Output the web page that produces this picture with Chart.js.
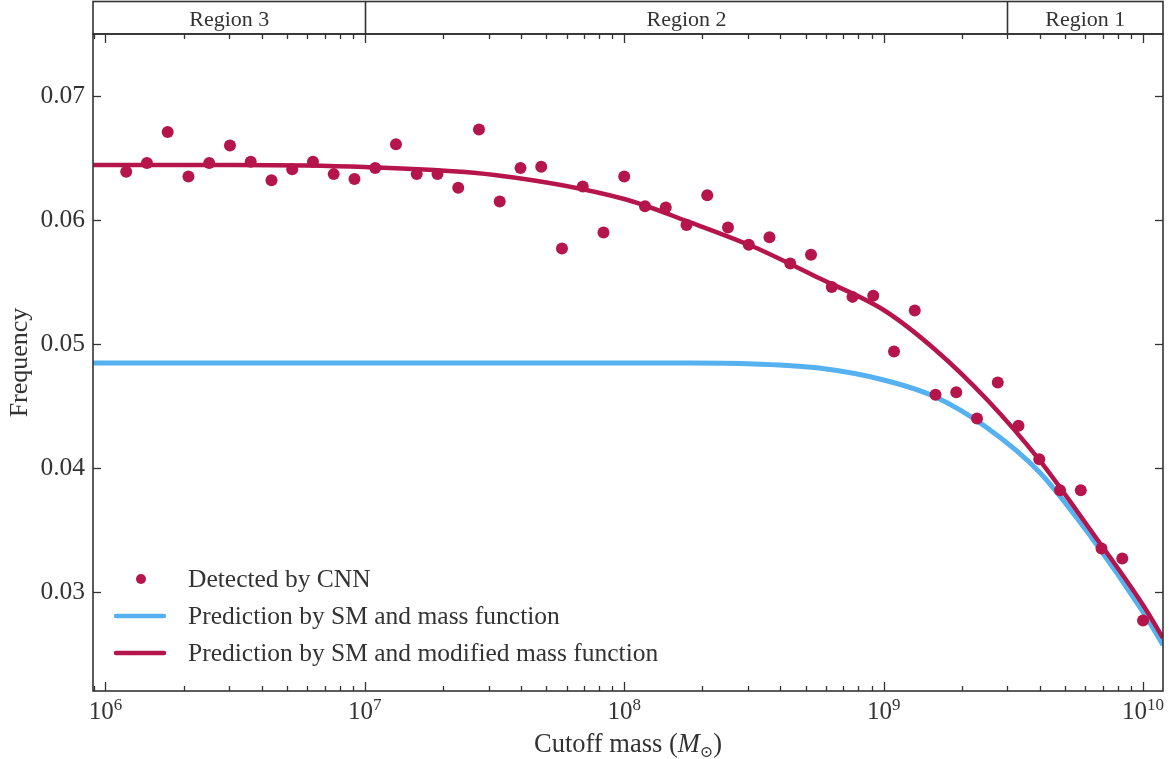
<!DOCTYPE html>
<html>
<head>
<meta charset="utf-8">
<title>Frequency vs cutoff mass</title>
<script src="https://cdn.jsdelivr.net/npm/chart.js@4.4.1/dist/chart.umd.min.js"></script>
<style>
  html, body { margin: 0; padding: 0; background: #fff; }
  #wrap { width: 1173px; height: 759px; }
</style>
</head>
<body>
<div id="wrap"><canvas id="cutoffChart" width="1173" height="759"></canvas></div>
<script>
var SERIF = '"Liberation Serif", "Times New Roman", "DejaVu Serif", serif';
var INK = '#333333';
var RED = '#B5154B';
var BLUE = '#56B1F1';

// Detected by CNN (log10 of cutoff mass, frequency)
var cnnLogMass = [6.08, 6.16, 6.24, 6.32, 6.40, 6.48, 6.56, 6.64, 6.72, 6.80,
                  6.88, 6.96, 7.04, 7.12, 7.20, 7.28, 7.36, 7.44, 7.52, 7.60,
                  7.68, 7.76, 7.84, 7.92, 8.00, 8.08, 8.16, 8.24, 8.32, 8.40,
                  8.48, 8.56, 8.64, 8.72, 8.80, 8.88, 8.96, 9.04, 9.12, 9.20,
                  9.28, 9.36, 9.44, 9.52, 9.60, 9.68, 9.76, 9.84, 9.92, 10.00];
var cnnFrequency = [0.0639, 0.0646, 0.0671, 0.0635, 0.0646, 0.0660, 0.0647, 0.0632, 0.0641, 0.0647,
                    0.0637, 0.0633, 0.0642, 0.0661, 0.0637, 0.0637, 0.0626, 0.0673, 0.0615, 0.0642,
                    0.0643, 0.0577, 0.0627, 0.0590, 0.0635, 0.0611, 0.0610, 0.0596, 0.0620, 0.0594,
                    0.0580, 0.0586, 0.0565, 0.0572, 0.0546, 0.0538, 0.0539, 0.0494, 0.0527, 0.0459,
                    0.0461, 0.0440, 0.0469, 0.0434, 0.0407, 0.0382, 0.0382, 0.0335, 0.0327, 0.0277];

// prediction curves at these masses
var curveLogMass = [5.952, 6.5, 7.0, 7.5, 8.0, 8.25, 8.5, 8.75, 9.0, 9.2, 9.4, 9.6, 9.8, 10.0, 10.077];
var smFrequency = [0.04847, 0.04847, 0.04847, 0.04847, 0.04847, 0.04847, 0.04839, 0.04806, 0.04710,
                   0.04573, 0.04323, 0.03968, 0.03444, 0.02839, 0.02573];
var modifiedFrequency = [0.06444, 0.06444, 0.06427, 0.06363, 0.06169, 0.05984, 0.05782, 0.05532, 0.05274,
                         0.04952, 0.04548, 0.04065, 0.03492, 0.02895, 0.02629];

var yTicks = [0.03, 0.04, 0.05, 0.06, 0.07];
var xDecades = [6, 7, 8, 9, 10];
var regionEdges = [1e7, 3e9];
var regionLabels = ['Region 3', 'Region 2', 'Region 1'];

var xMin = Math.pow(10, 5.952);
var xMax = Math.pow(10, 10.077);

function toPoints(logs, vals) {
  return logs.map(function (lg, i) {
    return { x: Math.pow(10, lg), y: vals[i] };
  });
}

function strokeLine(ctx, x1, y1, x2, y2) {
  ctx.beginPath();
  ctx.moveTo(x1, y1);
  ctx.lineTo(x2, y2);
  ctx.stroke();
}

// inward ticks, frame, log labels, region band and legend
var decorPlugin = {
  id: 'decor',
  afterDatasetsDraw: function (chart) {
    var ctx = chart.ctx;
    var a = chart.chartArea;
    var xs = chart.scales.x;
    var ys = chart.scales.y;
    ctx.save();

    ctx.strokeStyle = INK;
    ctx.lineWidth = 1.6;
    ctx.strokeRect(a.left, a.top, a.right - a.left, a.bottom - a.top);

    // x ticks top and bottom
    ctx.lineWidth = 1.3;
    for (var d = 5; d <= 10; d++) {
      for (var m = 1; m <= 9; m++) {
        var v = m * Math.pow(10, d);
        if (v < xs.min || v > xs.max) continue;
        var px = Math.round(xs.getPixelForValue(v)) + 0.5;
        var len = m === 1 ? 9 : 5;
        strokeLine(ctx, px, a.bottom, px, a.bottom - len);
        strokeLine(ctx, px, a.top, px, a.top + len);
      }
    }
    // y ticks left and right
    yTicks.forEach(function (t) {
      var py = Math.round(ys.getPixelForValue(t)) + 0.5;
      strokeLine(ctx, a.left, py, a.left + 8, py);
      strokeLine(ctx, a.right, py, a.right - 8, py);
    });

    // x tick labels 10^n
    ctx.fillStyle = INK;
    ctx.textBaseline = 'alphabetic';
    ctx.textAlign = 'left';
    xDecades.forEach(function (dd) {
      var px = xs.getPixelForValue(Math.pow(10, dd));
      ctx.font = '25px ' + SERIF;
      var wb = ctx.measureText('10').width;
      ctx.font = '17px ' + SERIF;
      var we = ctx.measureText(String(dd)).width;
      var x0 = px - (wb + we) / 2;
      ctx.font = '25px ' + SERIF;
      ctx.fillText('10', x0, 719);
      ctx.font = '17px ' + SERIF;
      ctx.fillText(String(dd), x0 + wb, 710);
    });

    // x axis title: Cutoff mass (M_sun)
    var parts = [
      { t: 'Cutoff mass (', f: '26.5px ' + SERIF, dy: 0 },
      { t: 'M', f: 'italic 26.5px ' + SERIF, dy: 0 },
      { t: '\u2299', f: '16px ' + SERIF, dy: 5 },
      { t: ')', f: '26.5px ' + SERIF, dy: 0 }
    ];
    var total = 0;
    parts.forEach(function (p) {
      ctx.font = p.f;
      p.w = ctx.measureText(p.t).width;
      total += p.w;
    });
    var cx = (a.left + a.right) / 2 - total / 2;
    parts.forEach(function (p) {
      ctx.font = p.f;
      ctx.fillText(p.t, cx, 752 + p.dy);
      cx += p.w;
    });

    // region band above the plot
    var bandTop = 1.5;
    ctx.lineWidth = 1.6;
    ctx.strokeRect(a.left, bandTop, a.right - a.left, a.top - bandTop);
    var edges = [a.left].concat(regionEdges.map(function (e) {
      return Math.round(xs.getPixelForValue(e)) + 0.5;
    })).concat([a.right]);
    ctx.font = '22px ' + SERIF;
    ctx.textAlign = 'center';
    for (var i = 0; i < regionLabels.length; i++) {
      if (i > 0) strokeLine(ctx, edges[i], bandTop, edges[i], a.top);
      ctx.fillText(regionLabels[i], (edges[i] + edges[i + 1]) / 2, 26);
    }

    // legend
    var ds = chart.data.datasets;
    var rows = [579, 616, 653];
    ctx.textAlign = 'left';
    ctx.textBaseline = 'middle';
    ctx.font = '25.5px ' + SERIF;
    ds.forEach(function (set, k) {
      var y = rows[k];
      if (set.showLine === false) {
        ctx.fillStyle = set.pointBackgroundColor;
        ctx.beginPath();
        ctx.arc(141, y, 5, 0, Math.PI * 2);
        ctx.fill();
      } else {
        ctx.strokeStyle = set.borderColor;
        ctx.lineWidth = 4.5;
        ctx.lineCap = 'round';
        strokeLine(ctx, 116, y, 164, y);
      }
      ctx.fillStyle = INK;
      ctx.fillText(set.label, 188, y + 1);
    });
    ctx.restore();
  }
};

var ctx = document.getElementById('cutoffChart').getContext('2d');
var chart = new Chart(ctx, {
  type: 'line',
  data: {
    datasets: [
      {
        label: 'Detected by CNN',
        data: toPoints(cnnLogMass, cnnFrequency),
        showLine: false,
        pointRadius: 6,
        pointBackgroundColor: RED,
        pointBorderWidth: 0,
        borderColor: RED,
      },
      {
        label: 'Prediction by SM and mass function',
        data: toPoints(curveLogMass, smFrequency),
        borderColor: BLUE,
        borderWidth: 5,
        pointRadius: 0,
        cubicInterpolationMode: 'monotone',
        order: 2,
      },
      {
        label: 'Prediction by SM and modified mass function',
        data: toPoints(curveLogMass, modifiedFrequency),
        borderColor: RED,
        borderWidth: 4.5,
        pointRadius: 0,
        cubicInterpolationMode: 'monotone',
        order: 1,
      },
    ],
  },
  options: {
    responsive: false,
    devicePixelRatio: 1,
    animation: false,
    layout: { padding: { top: 34, right: 10, left: 0, bottom: 0 } },
    plugins: {
      legend: { display: false },
      tooltip: { enabled: false },
    },
    scales: {
      x: {
        type: 'logarithmic',
        min: xMin,
        max: xMax,
        afterFit: function (s) { s.height = 68; },
        grid: { display: false, drawTicks: false },
        border: { display: false },
        ticks: { display: false },
      },
      y: {
        min: 0.022016,
        max: 0.075,
        afterFit: function (s) { s.width = 93; },
        afterBuildTicks: function (s) {
          s.ticks = yTicks.map(function (v) { return { value: v }; });
        },
        grid: { display: false, drawTicks: false },
        border: { display: false },
        ticks: {
          padding: 8,
          color: INK,
          font: { family: SERIF, size: 25.5 },
          callback: function (v) { return v.toFixed(2); },
        },
        title: {
          display: true,
          text: 'Frequency',
          color: INK,
          font: { family: SERIF, size: 26 },
          padding: { top: 5, bottom: 0 },
        },
      },
    },
  },
  plugins: [decorPlugin],
});
</script>
</body>
</html>
